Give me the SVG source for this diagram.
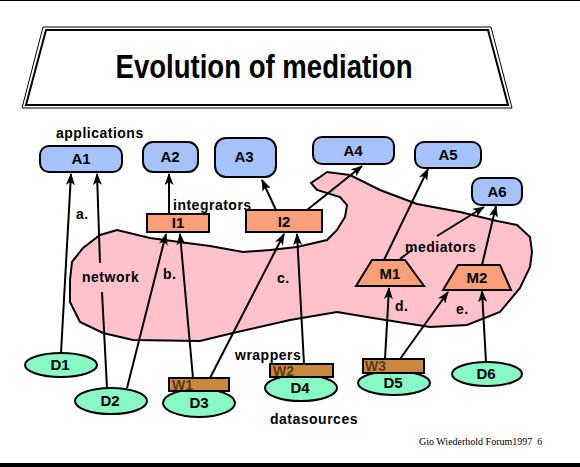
<svg xmlns="http://www.w3.org/2000/svg" width="580" height="467" viewBox="0 0 580 467">
<defs>
<marker id="ah" markerWidth="12" markerHeight="9" refX="11" refY="4.5" orient="auto" markerUnits="userSpaceOnUse">
<path d="M0,0 L12,4.5 L0,9 L3,4.5 Z" fill="#000"/>
</marker>
<style>
.app{fill:#a6c2fa;stroke:#000;stroke-width:2}
.int{fill:#fa9f78;stroke:#000;stroke-width:2}
.ds{fill:#88f8c4;stroke:#000;stroke-width:2}
.wr{fill:#c8893f;stroke:#000;stroke-width:2}
.nl{font-family:"Liberation Sans",Arial,sans-serif;font-weight:bold;font-size:15px;fill:#000;text-anchor:middle}
.lb{font-family:"Liberation Sans",Arial,sans-serif;font-weight:bold;font-size:14px;fill:#000;letter-spacing:0.5px}
.wl{font-family:"Liberation Sans",Arial,sans-serif;font-weight:bold;font-size:14px;fill:#5a3a14}
.cn{stroke:#000;stroke-width:2;fill:none}
.ar{marker-end:url(#ah)}
</style>
</defs>
<rect x="0" y="0" width="580" height="467" fill="#fff"/>
<rect x="0" y="0" width="580" height="1" fill="#000"/>
<rect x="0" y="463" width="580" height="4" fill="#000"/>

<g id="title">
<polygon points="43,27 491,27 512,108 22,108" fill="none" stroke="#000" stroke-width="1"/>
<polygon points="46,30 488,30 508,105 26,105" fill="none" stroke="#000" stroke-width="2"/>
<text x="264" y="78" font-family="Liberation Sans,Arial,sans-serif" font-weight="bold" font-size="34" text-anchor="middle" textLength="297" lengthAdjust="spacingAndGlyphs">Evolution of mediation</text>
</g>

<g id="network">
<path d="M70,280 L72,262 L83,248 L100,235 L117,230 L150,238 L187,243 L210,246 L243,252 L270,250 L297,247 L327,240 L337,230 L345,217 L347,205 L340,197 L317,190 L311,183 L320,177 L327,172 L350,175 L380,190 L417,204 L460,212 L497,221 L517,225 L530,237 L532,252 L530,267 L520,288 L500,312 L467,325 L430,327 L373,318 L337,312 L290,320 L233,333 L200,341 L133,340 L103,333 L80,322 L70,302 Z" fill="#ffc2cb" stroke="#000" stroke-width="2"/>
</g>

<g id="connectors">
<line class="cn ar" x1="61" y1="353" x2="71" y2="174"/>
<line class="cn" x1="107" y1="388" x2="102" y2="292"/>
<line class="cn ar" x1="100" y1="263" x2="97" y2="174"/>
<line class="cn ar" x1="127" y1="388" x2="166" y2="234"/>
<line class="cn ar" x1="193" y1="378" x2="180" y2="234"/>
<line class="cn ar" x1="210" y1="378" x2="284" y2="234"/>
<line class="cn ar" x1="304" y1="364" x2="297" y2="234"/>
<line class="cn ar" x1="169" y1="214" x2="169" y2="174"/>
<line class="cn ar" x1="276" y1="210" x2="262" y2="180"/>
<line class="cn ar" x1="307" y1="210" x2="362" y2="166"/>
<line class="cn ar" x1="384" y1="260" x2="428" y2="169"/>
<line class="cn" x1="400" y1="259" x2="413" y2="249"/>
<line class="cn ar" x1="437" y1="236" x2="484" y2="207"/>
<line class="cn ar" x1="482" y1="265" x2="496" y2="206"/>
<line class="cn ar" x1="385" y1="359" x2="389" y2="288"/>
<line class="cn ar" x1="400" y1="359" x2="448" y2="292"/>
<line class="cn ar" x1="486" y1="362" x2="482" y2="291"/>
</g>

<g id="A1"><rect class="app" x="40" y="146" width="82" height="26" rx="9"/><text class="nl" x="81" y="164">A1</text></g>
<g id="A2"><rect class="app" x="143" y="142" width="55" height="30" rx="10"/><text class="nl" x="170" y="162">A2</text></g>
<g id="A3"><rect class="app" x="215" y="138" width="61" height="39" rx="11"/><text class="nl" x="244" y="162">A3</text></g>
<g id="A4"><rect class="app" x="313" y="137" width="81" height="27" rx="9"/><text class="nl" x="353" y="156">A4</text></g>
<g id="A5"><rect class="app" x="415" y="142" width="66" height="26" rx="9"/><text class="nl" x="448" y="160">A5</text></g>
<g id="A6"><rect class="app" x="472" y="178" width="50" height="27" rx="9"/><text class="nl" x="497" y="197">A6</text></g>

<g id="I1"><rect class="int" x="147" y="214" width="62" height="18"/><text class="nl" x="178" y="228" font-size="14">I1</text></g>
<g id="I2"><rect class="int" x="246" y="210" width="76" height="22"/><text class="nl" x="284" y="227">I2</text></g>

<g id="M1"><polygon class="int" points="372,260 405,260 424,286 356,286"/><text class="nl" x="390" y="279">M1</text></g>
<g id="M2"><polygon class="int" points="458,265 500,265 511,290 443,290"/><text class="nl" x="477" y="283">M2</text></g>

<g id="D1"><ellipse class="ds" cx="61" cy="365" rx="36" ry="12"/><text class="nl" x="60" y="370">D1</text></g>
<g id="D2"><ellipse class="ds" cx="111" cy="401" rx="36" ry="13"/><text class="nl" x="110" y="406">D2</text></g>
<g id="D3"><ellipse class="ds" cx="199" cy="403" rx="36" ry="14"/><text class="nl" x="199" y="408">D3</text></g>
<g id="D4"><ellipse class="ds" cx="301" cy="388" rx="36" ry="13"/><text class="nl" x="300" y="393">D4</text></g>
<g id="D5"><ellipse class="ds" cx="394" cy="383" rx="36" ry="12"/><text class="nl" x="393" y="388">D5</text></g>
<g id="D6"><ellipse class="ds" cx="487" cy="374" rx="35" ry="12"/><text class="nl" x="486" y="379">D6</text></g>

<g id="W1"><rect class="wr" x="169" y="378" width="60" height="13"/><text class="wl" x="172" y="390">W1</text></g>
<g id="W2"><rect class="wr" x="270" y="364" width="63" height="13"/><text class="wl" x="273" y="376">W2</text></g>
<g id="W3"><rect class="wr" x="363" y="359" width="61" height="14"/><text class="wl" x="365" y="371">W3</text></g>

<g id="labels">
<text class="lb" x="56" y="138">applications</text>
<text class="lb" x="173" y="210">integrators</text>
<text class="lb" x="405" y="252">mediators</text>
<text class="lb" x="235" y="360">wrappers</text>
<text class="lb" x="270" y="424">datasources</text>
<text class="lb" x="82" y="282">network</text>
<text class="lb" x="76" y="219">a.</text>
<text class="lb" x="163" y="279">b.</text>
<text class="lb" x="277" y="283">c.</text>
<text class="lb" x="395" y="311">d.</text>
<text class="lb" x="456" y="314">e.</text>
<text x="419" y="445" font-family="Liberation Serif,Times New Roman,serif" font-size="10" fill="#000">Gio Wiederhold Forum1997<tspan dx="5">6</tspan></text>
</g>
</svg>
